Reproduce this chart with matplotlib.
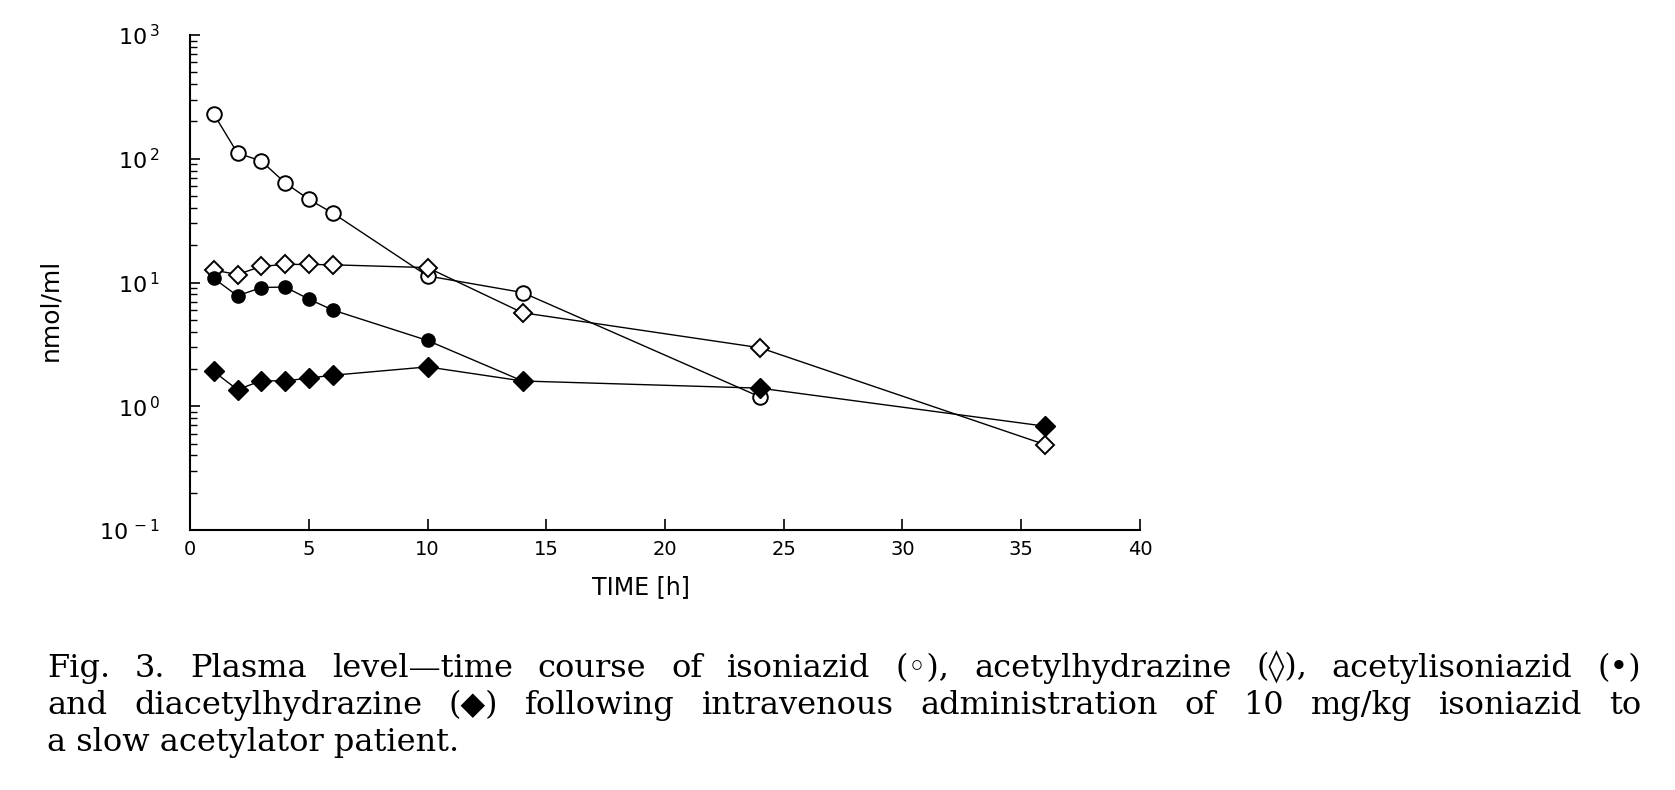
import matplotlib
matplotlib.use("Agg")
import matplotlib.pyplot as plt
from matplotlib.ticker import LogLocator, NullFormatter, FixedLocator

# ---------------- data ----------------
time_isoniazid = [1, 2, 3, 4, 5, 6, 10, 14, 24]
isoniazid = [230, 111, 96, 64, 47, 36.5, 11.3, 8.3, 1.19]

time_acetylhydrazine = [1, 2, 3, 4, 5, 6, 10, 14, 24, 36]
acetylhydrazine = [12.6, 11.6, 13.5, 14.0, 14.0, 13.9, 13.2, 5.7, 2.97, 0.49]

time_acetylisoniazid = [1, 2, 3, 4, 5, 6, 10, 14]
acetylisoniazid = [10.8, 7.8, 9.1, 9.2, 7.35, 6.0, 3.4, 1.6]

time_diacetylhydrazine = [1, 2, 3, 4, 5, 6, 10, 14, 24, 36]
diacetylhydrazine = [1.91, 1.36, 1.61, 1.60, 1.69, 1.78, 2.08, 1.60, 1.40, 0.69]

x_ticks = [0, 5, 10, 15, 20, 25, 30, 35, 40]
y_decades = [0.1, 1, 10, 100, 1000]
y_exponents = ["-1", "0", "1", "2", "3"]

x_label = "TIME [h]"
y_label = "nmol/ml"

caption_lines = [
    "Fig. 3. Plasma level\u2014time course of isoniazid (\u25e6), acetylhydrazine (\u25ca), acetylisoniazid (\u2022)",
    "and diacetylhydrazine (\u25c6) following intravenous administration of 10 mg/kg isoniazid to",
    "a slow acetylator patient.",
]

# ---------------- figure ----------------
W, H = 1675, 790
fig = plt.figure(figsize=(W / 100, H / 100), dpi=100)
fig.patch.set_facecolor("white")

ax_left, ax_right, ax_top, ax_bottom = 190, 1140, 35, 530
ax = fig.add_axes([ax_left / W, 1 - ax_bottom / H,
                   (ax_right - ax_left) / W, (ax_bottom - ax_top) / H])

lw = 1.0
ax.plot(time_isoniazid, isoniazid, color="black", lw=lw, marker="o",
        markersize=10.5, markerfacecolor="white", markeredgecolor="black",
        markeredgewidth=1.4, zorder=3)
ax.plot(time_acetylhydrazine, acetylhydrazine, color="black", lw=lw, marker="D",
        markersize=9.5, markerfacecolor="white", markeredgecolor="black",
        markeredgewidth=1.4, zorder=3)
ax.plot(time_acetylisoniazid, acetylisoniazid, color="black", lw=lw, marker="o",
        markersize=9.5, markerfacecolor="black", markeredgecolor="black", zorder=3)
ax.plot(time_diacetylhydrazine, diacetylhydrazine, color="black", lw=lw, marker="D",
        markersize=10, markerfacecolor="black", markeredgecolor="black", zorder=4)

ax.set_yscale("log")
ax.set_xlim(0, 40)
ax.set_ylim(0.1, 1000)

ax.spines["top"].set_visible(False)
ax.spines["right"].set_visible(False)
ax.spines["left"].set_linewidth(1.5)
ax.spines["bottom"].set_linewidth(1.5)

ax.xaxis.set_major_locator(FixedLocator(x_ticks))
ax.set_xticklabels([str(v) for v in x_ticks], fontsize=14)
ax.tick_params(axis="x", direction="in", length=8, width=1.2, pad=7)

ax.yaxis.set_major_locator(FixedLocator(y_decades))
ax.set_yticklabels([r"$\mathregular{10^{\,%s}}$" % e for e in y_exponents], fontsize=16)
ax.yaxis.set_minor_locator(LogLocator(base=10, subs=range(2, 10)))
ax.yaxis.set_minor_formatter(NullFormatter())
ax.tick_params(axis="y", which="major", direction="in", length=7, width=1.2, pad=22)
ax.tick_params(axis="y", which="minor", direction="in", length=5, width=1.0)

fig.text(641 / W, 1 - 587 / H, x_label, ha="center", va="center", fontsize=17)
fig.text(50 / W, 1 - 310 / H, y_label, ha="center", va="center", fontsize=18,
         rotation=90)

# ---------------- caption (justified) ----------------
cap_family = ["DejaVu Serif", "DejaVu Sans"]
cap_size = 23
cap_left, cap_right = 47, 1641
baselines = [677, 714, 751]
renderer = fig.canvas.get_renderer()

for i, line in enumerate(caption_lines):
    yb = 1 - baselines[i] / H
    if i == len(caption_lines) - 1:
        fig.text(cap_left / W, yb, line, ha="left", va="baseline",
                 fontsize=cap_size, family=cap_family)
        continue
    words = line.split(" ")
    texts = [fig.text(0, yb, w, ha="left", va="baseline", fontsize=cap_size,
                      family=cap_family) for w in words]
    widths = [t.get_window_extent(renderer=renderer).width for t in texts]
    gap = (cap_right - cap_left - sum(widths)) / (len(words) - 1)
    x = cap_left
    for t, wd in zip(texts, widths):
        t.set_x(x / W)
        x += wd + gap

fig.savefig("out.png", dpi=100, facecolor="white")
